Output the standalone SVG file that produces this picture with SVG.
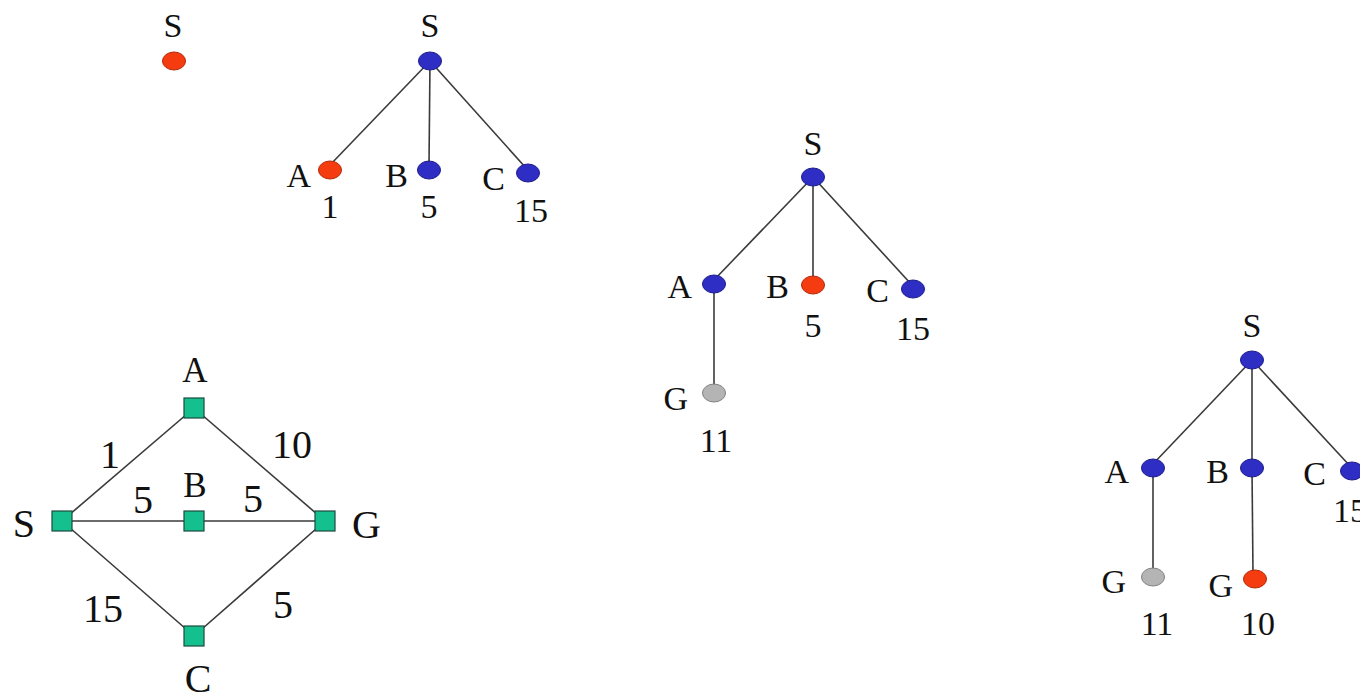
<svg xmlns="http://www.w3.org/2000/svg" width="1360" height="694" viewBox="0 0 1360 694">
<style>
text{font-family:"Liberation Serif","Times New Roman",serif;fill:#111}
.t{font-size:34px}
.g{font-size:40px}
.gs{font-size:35px}
.m{text-anchor:middle}
.e{text-anchor:end}
.red{fill:#f53c10;stroke:#b02a0a;stroke-width:1}
.blue{fill:#2e2ec4;stroke:#1c1c8a;stroke-width:1}
.gray{fill:#b4b4b4;stroke:#808080;stroke-width:1}
.sq{fill:#14c08e;stroke:#1d4a3c;stroke-width:1.2}
.ln{stroke:#3a3a3a;stroke-width:1.6;fill:none}
</style>
<rect width="1360" height="694" fill="#fff"/>

<!-- Tree 1 -->
<g id="t1-S"><text class="t m" x="173" y="37">S</text><ellipse class="red" cx="174" cy="61" rx="11.5" ry="9"/></g>

<!-- Tree 2 connectors -->
<g id="t2-edges">
<line class="ln" x1="430" y1="61" x2="330" y2="165"/>
<line class="ln" x1="430" y1="61" x2="429" y2="165"/>
<line class="ln" x1="430" y1="61" x2="526" y2="168"/>
</g>
<g id="t2-S"><text class="t m" x="430" y="37">S</text><ellipse class="blue" cx="430" cy="61" rx="11.5" ry="9"/></g>
<g id="t2-A"><text class="t e" x="311" y="187">A</text><ellipse class="red" cx="330" cy="170" rx="11.5" ry="9"/><text class="t m" x="330" y="218">1</text></g>
<g id="t2-B"><text class="t e" x="408" y="187">B</text><ellipse class="blue" cx="429" cy="170" rx="11.5" ry="9"/><text class="t m" x="429" y="218">5</text></g>
<g id="t2-C"><text class="t e" x="505" y="190">C</text><ellipse class="blue" cx="528" cy="173" rx="11.5" ry="9"/><text class="t m" x="531" y="222">15</text></g>

<!-- Tree 3 connectors -->
<g id="t3-edges">
<line class="ln" x1="813" y1="177" x2="714" y2="280"/>
<line class="ln" x1="813" y1="177" x2="813" y2="280"/>
<line class="ln" x1="813" y1="177" x2="911" y2="284"/>
<line class="ln" x1="714" y1="284" x2="714" y2="388"/>
</g>
<g id="t3-S"><text class="t m" x="813" y="155">S</text><ellipse class="blue" cx="813" cy="177" rx="11.5" ry="9"/></g>
<g id="t3-A"><text class="t e" x="692" y="298">A</text><ellipse class="blue" cx="714" cy="284" rx="11.5" ry="9"/></g>
<g id="t3-B"><text class="t e" x="789" y="298">B</text><ellipse class="red" cx="813" cy="285" rx="11.5" ry="9"/><text class="t m" x="813" y="337">5</text></g>
<g id="t3-C"><text class="t e" x="889" y="302">C</text><ellipse class="blue" cx="913" cy="289" rx="11.5" ry="9"/><text class="t m" x="913" y="340">15</text></g>
<g id="t3-G"><text class="t e" x="688" y="410">G</text><ellipse class="gray" cx="714" cy="393" rx="11.5" ry="9"/><text class="t m" x="716" y="452">11</text></g>

<!-- Tree 4 connectors -->
<g id="t4-edges">
<line class="ln" x1="1252" y1="360" x2="1153" y2="464"/>
<line class="ln" x1="1252" y1="360" x2="1252" y2="464"/>
<line class="ln" x1="1252" y1="360" x2="1350" y2="466"/>
<line class="ln" x1="1153" y1="468" x2="1153" y2="572"/>
<line class="ln" x1="1252" y1="468" x2="1253" y2="574"/>
</g>
<g id="t4-S"><text class="t m" x="1252" y="337">S</text><ellipse class="blue" cx="1252" cy="360" rx="11.5" ry="9"/></g>
<g id="t4-A"><text class="t e" x="1129" y="483">A</text><ellipse class="blue" cx="1153" cy="468" rx="11.5" ry="9"/></g>
<g id="t4-B"><text class="t e" x="1229" y="483">B</text><ellipse class="blue" cx="1252" cy="468" rx="11.5" ry="9"/></g>
<g id="t4-C"><text class="t e" x="1326" y="485">C</text><ellipse class="blue" cx="1352" cy="471" rx="11.5" ry="9"/><text class="t" x="1333" y="522">15</text></g>
<g id="t4-G1"><text class="t e" x="1126" y="593">G</text><ellipse class="gray" cx="1153" cy="577" rx="11.5" ry="9"/><text class="t m" x="1157" y="635">11</text></g>
<g id="t4-G2"><text class="t e" x="1233" y="597">G</text><ellipse class="red" cx="1255" cy="579" rx="11.5" ry="9"/><text class="t m" x="1258" y="635">10</text></g>

<!-- Graph connectors -->
<g id="graph-edges">
<line class="ln" x1="62" y1="521" x2="194" y2="408"/>
<line class="ln" x1="194" y1="408" x2="325" y2="521"/>
<line class="ln" x1="62" y1="521" x2="325" y2="521"/>
<line class="ln" x1="62" y1="521" x2="194" y2="636"/>
<line class="ln" x1="194" y1="636" x2="325" y2="521"/>
<text class="g m" x="110" y="468">1</text>
<text class="g m" x="292" y="458">10</text>
<text class="g m" x="143" y="513">5</text>
<text class="g m" x="253" y="512">5</text>
<text class="g m" x="103" y="622">15</text>
<text class="g m" x="283" y="618">5</text>
</g>
<g id="g-S"><rect class="sq" x="52" y="511" width="20" height="20"/><text class="g e" x="35" y="537">S</text></g>
<g id="g-A"><rect class="sq" x="184" y="398" width="20" height="20"/><text class="gs m" x="195" y="382">A</text></g>
<g id="g-B"><rect class="sq" x="184" y="511" width="20" height="20"/><text class="gs m" x="195" y="497">B</text></g>
<g id="g-G"><rect class="sq" x="315" y="511" width="20" height="20"/><text class="g" x="352" y="538">G</text></g>
<g id="g-C"><rect class="sq" x="184" y="626" width="20" height="20"/><text class="g m" x="198" y="692">C</text></g>
</svg>
